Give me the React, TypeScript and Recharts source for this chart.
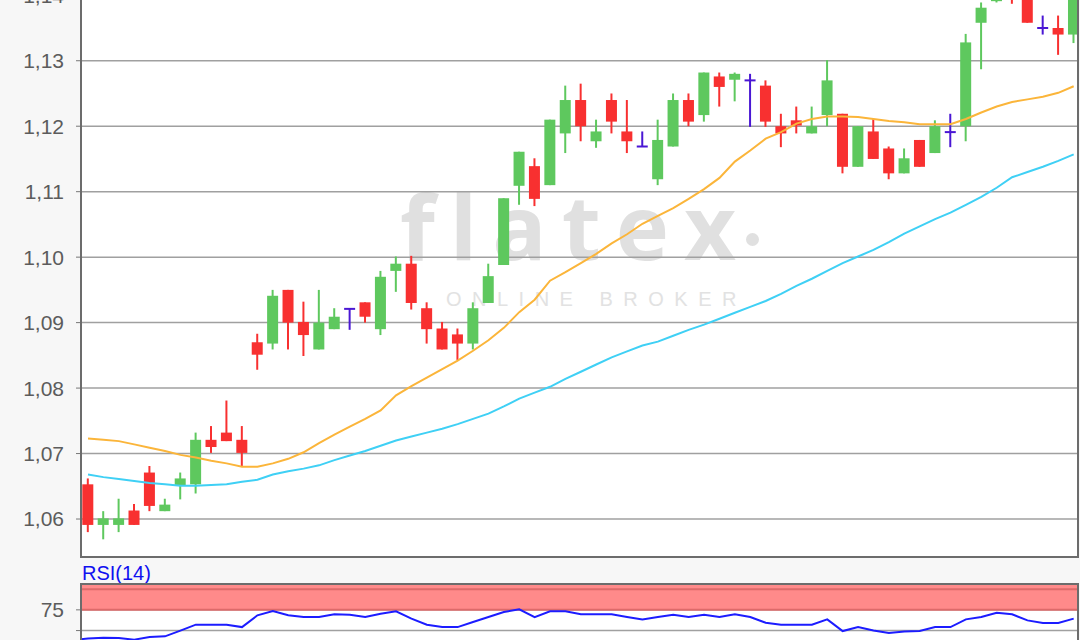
import React from 'react';
import {
    ComposedChart, Bar, Line, XAxis, YAxis, CartesianGrid, ReferenceArea, ReferenceLine
} from 'recharts';

// candle values, one per session
const openPrices = [
    1.0653, 1.0591, 1.0591, 1.0613, 1.0671, 1.0612, 1.0652, 1.0653, 1.0721, 1.0732,
    1.0721, 1.0870, 1.0868, 1.0950, 1.0901, 1.0859, 1.0890, 1.0921, 1.0931, 1.0890,
    1.0979, 1.0990, 1.0922, 1.0891, 1.0882, 1.0868, 1.0930, 1.0988, 1.1109, 1.1139,
    1.1110, 1.1189, 1.1240, 1.1177, 1.1240, 1.1192, 1.1169, 1.1119, 1.1169, 1.1240,
    1.1217, 1.1276, 1.1271, 1.1270, 1.1262, 1.1200, 1.1209, 1.1189, 1.1217, 1.1219,
    1.1138, 1.1192, 1.1166, 1.1128, 1.1179, 1.1159, 1.1191, 1.1200, 1.1358, 1.1391,
    1.1403, 1.1402, 1.1350, 1.1350, 1.1340,
];
const highPrices = [
    1.0662, 1.0612, 1.0631, 1.0623, 1.0681, 1.0631, 1.0671, 1.0732, 1.0742, 1.0781,
    1.0742, 1.0883, 1.0950, 1.0950, 1.0932, 1.0950, 1.0922, 1.0921, 1.0931, 1.0979,
    1.1001, 1.1002, 1.0931, 1.0901, 1.0891, 1.0931, 1.0990, 1.1090, 1.1161, 1.1151,
    1.1210, 1.1262, 1.1265, 1.1210, 1.1250, 1.1240, 1.1192, 1.1210, 1.1250, 1.1250,
    1.1282, 1.1282, 1.1282, 1.1280, 1.1270, 1.1219, 1.1230, 1.1230, 1.1301, 1.1219,
    1.1200, 1.1211, 1.1169, 1.1166, 1.1179, 1.1209, 1.1219, 1.1341, 1.1389, 1.1404,
    1.1405, 1.1404, 1.1369, 1.1369, 1.1404,
];
const lowPrices = [
    1.0580, 1.0569, 1.0580, 1.0591, 1.0612, 1.0612, 1.0630, 1.0639, 1.0701, 1.0719,
    1.0681, 1.0828, 1.0859, 1.0859, 1.0849, 1.0859, 1.0890, 1.0889, 1.0900, 1.0881,
    1.0947, 1.0920, 1.0868, 1.0859, 1.0843, 1.0859, 1.0930, 1.0988, 1.1080, 1.1078,
    1.1110, 1.1159, 1.1177, 1.1167, 1.1189, 1.1159, 1.1169, 1.1110, 1.1169, 1.1200,
    1.1207, 1.1230, 1.1238, 1.1199, 1.1199, 1.1168, 1.1189, 1.1189, 1.1200, 1.1128,
    1.1138, 1.1150, 1.1119, 1.1128, 1.1138, 1.1159, 1.1168, 1.1177, 1.1287, 1.1389,
    1.1387, 1.1358, 1.1340, 1.1309, 1.1327,
];
const closePrices = [
    1.0591, 1.0601, 1.0601, 1.0591, 1.0620, 1.0622, 1.0662, 1.0721, 1.0710, 1.0719,
    1.0701, 1.0851, 1.0941, 1.0900, 1.0881, 1.0900, 1.0909, 1.0921, 1.0909, 1.0970,
    1.0990, 1.0930, 1.0890, 1.0859, 1.0868, 1.0922, 1.0971, 1.1090, 1.1161, 1.1089,
    1.1210, 1.1240, 1.1200, 1.1192, 1.1207, 1.1177, 1.1169, 1.1179, 1.1240, 1.1207,
    1.1282, 1.1260, 1.1280, 1.1270, 1.1207, 1.1189, 1.1201, 1.1200, 1.1270, 1.1138,
    1.1200, 1.1150, 1.1128, 1.1151, 1.1138, 1.1200, 1.1191, 1.1328, 1.1381, 1.1402,
    1.1396, 1.1358, 1.1350, 1.1340, 1.1402,
];

// moving averages
const maFast = [
    1.0723, 1.0721, 1.0719, 1.0714, 1.0709, 1.0704, 1.0698, 1.0694, 1.0689, 1.0685,
    1.0680, 1.0680, 1.0685, 1.0692, 1.0702, 1.0716, 1.0729, 1.0741, 1.0753, 1.0766,
    1.0789, 1.0803, 1.0816, 1.0829, 1.0842, 1.0857, 1.0873, 1.0892, 1.0916, 1.0935,
    1.0964, 1.0977, 1.0991, 1.1005, 1.1021, 1.1035, 1.1051, 1.1063, 1.1075, 1.1089,
    1.1104, 1.1121, 1.1146, 1.1163, 1.1181, 1.1191, 1.1204, 1.1211, 1.1215, 1.1215,
    1.1214, 1.1211, 1.1208, 1.1206, 1.1203, 1.1203, 1.1203, 1.1211, 1.1221, 1.1230,
    1.1237, 1.1241, 1.1245, 1.1251, 1.1261,
];
const maSlow = [
    1.0668, 1.0664, 1.0661, 1.0658, 1.0655, 1.0653, 1.0651, 1.0651, 1.0652, 1.0653,
    1.0657, 1.0660, 1.0668, 1.0673, 1.0677, 1.0682, 1.0690, 1.0697, 1.0704, 1.0712,
    1.0720, 1.0726, 1.0732, 1.0738, 1.0745, 1.0753, 1.0761, 1.0772, 1.0784, 1.0793,
    1.0802, 1.0814, 1.0825, 1.0836, 1.0847, 1.0856, 1.0865, 1.0871, 1.0880, 1.0889,
    1.0897, 1.0906, 1.0915, 1.0924, 1.0933, 1.0944, 1.0956, 1.0967, 1.0979, 1.0991,
    1.1001, 1.1011, 1.1023, 1.1036, 1.1047, 1.1058, 1.1068, 1.1080, 1.1092, 1.1106,
    1.1122, 1.1130, 1.1138, 1.1147, 1.1157,
];

// RSI(14), first value belongs to the session before the first candle
const rsiValues = [
    38.5, 40.5, 41.4, 41, 39, 42.3, 43, 50, 57.1, 57.1,
    57.1, 54.2, 68.4, 73.6, 68.4, 66.3, 66.3, 69.6, 69.2, 66.3,
    70.4, 73.2, 64.4, 57.1, 54.2, 54.2, 60.3, 66.3, 72.3, 75.6,
    66.3, 73.2, 73.2, 69.6, 69.6, 69.6, 66.5, 63.5, 66.3, 69.2,
    66.3, 69.2, 66.3, 69.6, 66.3, 59.5, 57.1, 57.1, 57.1, 63.5,
    49.4, 54.2, 50.2, 47, 49, 49.4, 54.2, 54.2, 63.5, 66.3,
    71.6, 69.6, 62.3, 59.1, 59.1, 64.4,
];

const priceTicks = [1.06, 1.07, 1.08, 1.09, 1.10, 1.11, 1.12, 1.13, 1.14];
const rsiTicks = [50, 75];
const rsiLabelled = [75];

const UP = '#5ec85e';
const DOWN = '#f83030';
const DOJI = '#4a17d4';
const FONT = '"Liberation Sans", Arial, sans-serif';
const X_DOMAIN: [number, number] = [-0.455, 64.28];

const candleData = openPrices.map((open, i) => ({
    i,
    open,
    close: closePrices[i],
    high: highPrices[i],
    low: lowPrices[i],
    range: [lowPrices[i], highPrices[i]],
    maFast: maFast[i],
    maSlow: maSlow[i],
}));

const rsiData = rsiValues.map((rsi, k) => ({ i: k - 1, rsi }));

// draws wick + body inside the [low, high] bar the library positioned
const Candle = (props: any) => {
    const { x, y, width, height, payload } = props;
    if (!payload) return null;
    const { open, close, high, low } = payload;
    const span = high - low;
    const toY = (v: number) => (span === 0 ? y : y + ((high - v) / span) * height);
    const color = open === close ? DOJI : close > open ? UP : DOWN;
    const cx = x + width / 2;
    const top = toY(Math.max(open, close));
    const bottom = toY(Math.min(open, close));
    return (
        <g>
            <line x1={cx} x2={cx} y1={y} y2={y + height} stroke={color} strokeWidth={2} />
            {open === close ? (
                <line x1={x} x2={x + width} y1={top} y2={top} stroke={color} strokeWidth={2} />
            ) : (
                <rect x={x} y={top} width={width} height={Math.max(bottom - top, 1.5)} fill={color} />
            )}
        </g>
    );
};

const fmtPrice = (v: number) => v.toFixed(2).replace('.', ',');

export default function App() {
    return (
        <div style={{ position: 'fixed', left: 0, top: 0, width: 1080, height: 640, overflow: 'hidden', background: '#f7f7f7' }}>
            {/* plot backgrounds */}
            <div style={{ position: 'absolute', left: 81, top: -10, width: 997, height: 567, background: '#fff' }} />
            <div style={{ position: 'absolute', left: 81, top: 585, width: 997, height: 100, background: '#fff' }} />

            {/* watermark */}
            <div style={{
                position: 'absolute', left: 400, top: 180, fontFamily: '"Open Sans", sans-serif', fontWeight: 700,
                fontSize: 90, letterSpacing: 15, color: '#e0e0e0', lineHeight: 1
            }}>flatex</div>
            <div style={{ position: 'absolute', left: 746, top: 233, width: 13, height: 13, borderRadius: 7, background: '#e0e0e0' }} />
            <div style={{
                position: 'absolute', left: 446, top: 289, fontFamily: FONT, fontSize: 20,
                letterSpacing: 10.5, color: '#e2e2e2', lineHeight: 1
            }}>ONLINE BROKER</div>

            {/* price panel */}
            <div style={{ position: 'absolute', left: 0, top: -18 }}>
                <ComposedChart width={1080} height={580} data={candleData} margin={{ top: 10, right: 2, bottom: 5, left: 0 }}>
                    <CartesianGrid horizontal vertical={false} stroke="#a0a0a0" strokeWidth={1.5} />
                    <XAxis dataKey="i" type="number" domain={X_DOMAIN} allowDataOverflow hide />
                    <YAxis
                        type="number"
                        domain={[1.0542, 1.1405]}
                        allowDataOverflow
                        ticks={priceTicks}
                        width={81}
                        axisLine={false}
                        tickSize={5}
                        tickMargin={12}
                        tickLine={{ stroke: '#777' }}
                        tickFormatter={fmtPrice}
                        tick={{ fill: '#5c5c5c', fontSize: 21, fontFamily: FONT }}
                    />
                    <Bar dataKey="range" barSize={11} shape={<Candle />} isAnimationActive={false} />
                    <Line type="linear" dataKey="maSlow" stroke="#3fd0f5" strokeWidth={2} dot={false} isAnimationActive={false} />
                    <Line type="linear" dataKey="maFast" stroke="#fbb53a" strokeWidth={2} dot={false} isAnimationActive={false} />
                </ComposedChart>
            </div>

            <div style={{ position: 'absolute', left: 82, top: 563, fontFamily: FONT, fontSize: 20, color: '#1010f0', lineHeight: 1 }}>RSI(14)</div>

            {/* RSI panel */}
            <div style={{ position: 'absolute', left: 0, top: 575 }}>
                <ComposedChart width={1080} height={110} data={rsiData} margin={{ top: 10, right: 2, bottom: 13, left: 0 }}>
                    <CartesianGrid horizontal vertical={false} stroke="#a0a0a0" strokeWidth={1.5} />
                    <XAxis dataKey="i" type="number" domain={X_DOMAIN} allowDataOverflow hide />
                    <YAxis
                        type="number"
                        domain={[0, 105]}
                        allowDataOverflow
                        ticks={rsiTicks}
                        width={81}
                        axisLine={false}
                        tickSize={5}
                        tickMargin={12}
                        tickLine={{ stroke: '#777' }}
                        tickFormatter={(v: number) => (rsiLabelled.includes(v) ? String(v) : '')}
                        tick={{ fill: '#5c5c5c', fontSize: 21, fontFamily: FONT }}
                    />
                    <ReferenceArea y1={75} y2={105} fill="#ff8a8a" fillOpacity={1} stroke="none" ifOverflow="hidden" />
                    <ReferenceLine y={100} stroke="#dd6a6a" strokeWidth={2} />
                    <ReferenceLine y={75} stroke="#dd6a6a" strokeWidth={2} />
                    <Line type="linear" dataKey="rsi" stroke="#1c1cff" strokeWidth={2} dot={false} isAnimationActive={false} />
                </ComposedChart>
            </div>

            {/* panel frames */}
            <div style={{ position: 'absolute', left: 80, top: -12, width: 999, height: 570, border: '2px solid #6c6c6c', boxSizing: 'border-box', pointerEvents: 'none' }} />
            <div style={{ position: 'absolute', left: 80, top: 583, width: 999, height: 120, border: '2px solid #6c6c6c', boxSizing: 'border-box', pointerEvents: 'none' }} />
        </div>
    );
}
